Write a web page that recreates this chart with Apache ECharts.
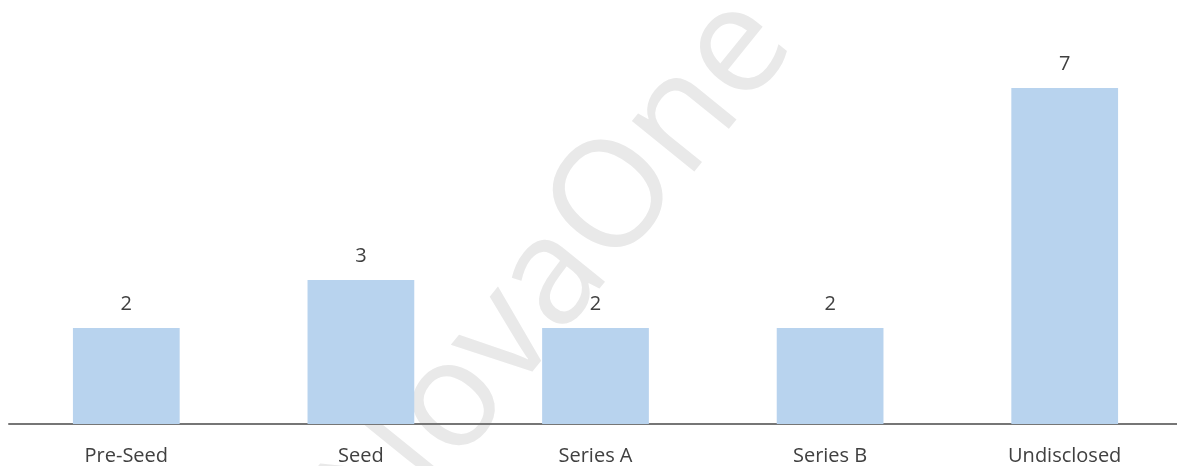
<!DOCTYPE html>
<html>
<head>
<meta charset="utf-8">
<script src="https://cdn.jsdelivr.net/npm/echarts@6/dist/echarts.min.js"></script>
<style>
html,body{margin:0;padding:0;background:#fff;}
#chart{width:1177px;height:466px;}
</style>
</head>
<body>
<div id="chart"></div>
<script>
const categories = ['Pre-Seed', 'Seed', 'Series A', 'Series B', 'Undisclosed'];
const dealCounts = [2, 3, 2, 2, 7];
const watermarkText = 'NovaOne';

const chart = echarts.init(document.getElementById('chart'));
chart.setOption({
  animation: false,
  backgroundColor: '#ffffff',
  grid: { left: 9, width: 1173, top: 40, bottom: 42, containLabel: false, outerBoundsMode: 'none' },
  xAxis: {
    type: 'category',
    data: categories,
    axisLine: { show: true, lineStyle: { color: '#767676', width: 2 } },
    axisTick: { show: false },
    axisLabel: { color: '#404040', fontSize: 20, fontFamily: 'Open Sans', margin: 22 }
  },
  yAxis: {
    type: 'value',
    min: 0, max: 8,
    show: false,
    splitLine: { show: false }
  },
  series: [{
    type: 'bar',
    data: dealCounts,
    barWidth: '45.5%',
    itemStyle: { color: '#b8d3ee' },
    label: { show: true, position: 'top', distance: 14, color: '#404040', fontSize: 20, fontFamily: 'Open Sans' }
  }],
  graphic: [{
    type: 'text',
    x: 558, y: 272,
    rotation: 51 * Math.PI / 180,
    z: -10,
    silent: true,
    style: {
      text: watermarkText,
      x: 0, y: 0,
      align: 'center',
      verticalAlign: 'middle',
      fontSize: 150,
      fontWeight: 'normal',
      fontFamily: 'Open Sans',
      fill: '#e9e9e9'
    }
  }]
});
</script>
</body>
</html>
